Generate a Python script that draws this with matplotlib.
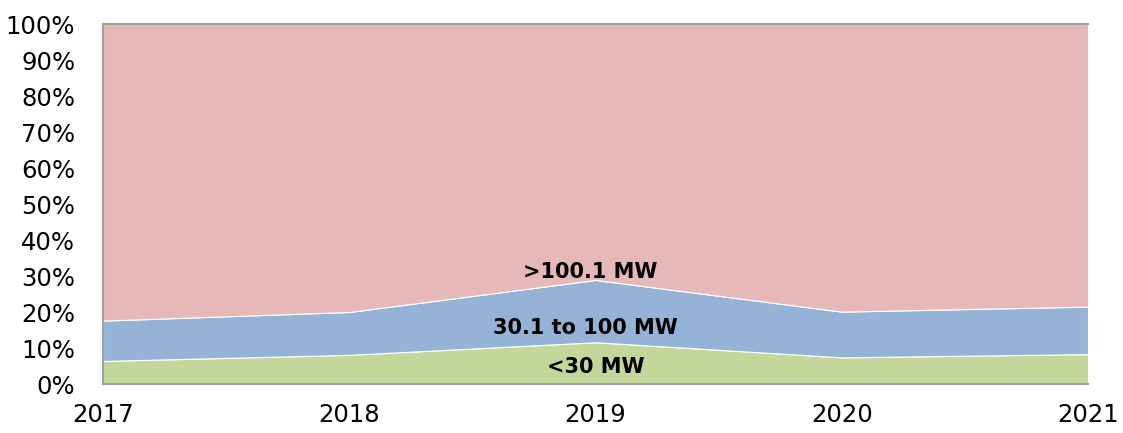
import matplotlib
matplotlib.use("Agg")
import matplotlib.pyplot as plt
import numpy as np

years = [2017, 2018, 2019, 2020, 2021]
small = [6.4, 8.1, 11.6, 7.4, 8.3]          # <30 MW
mid = [11.2, 11.9, 17.3, 12.7, 13.2]        # 30.1 to 100 MW
large = [100 - a - b for a, b in zip(small, mid)]  # >100.1 MW
series_labels = ["<30 MW", "30.1 to 100 MW", ">100.1 MW"]
colors = ["#C4D79B", "#95B3D7", "#E6B8B7"]
yticks = list(range(0, 101, 10))

fig = plt.figure(figsize=(11.23, 4.33), dpi=100)
ax = fig.add_axes([103/1123, 49/433, 985/1123, 360/433])
ax.stackplot(years, small, mid, large, colors=colors, linewidth=0.8, edgecolor="white")
ax.set_xlim(2017, 2021)
ax.set_ylim(0, 100)
ax.set_xticks(years)
ax.set_xticklabels([str(y) for y in years])
ax.set_yticks(yticks)
ax.set_yticklabels([f"{t}%" for t in yticks])
ax.tick_params(axis="both", length=0, labelsize=17.5, colors="black")
ax.tick_params(axis="x", pad=14)
ax.tick_params(axis="y", pad=20)
for s in ["left", "bottom", "top"]:
    ax.spines[s].set_color("#A0A0A0")
    ax.spines[s].set_linewidth(1.5)
ax.spines["right"].set_visible(False)

ax.text(2018.98, 31.1, series_labels[2], ha="center", va="center", fontsize=15, fontweight="bold")
ax.text(2018.96, 15.6, series_labels[1], ha="center", va="center", fontsize=15, fontweight="bold")
ax.text(2019.0, 4.7, series_labels[0], ha="center", va="center", fontsize=15, fontweight="bold")

fig.savefig("out.png", dpi=100)
